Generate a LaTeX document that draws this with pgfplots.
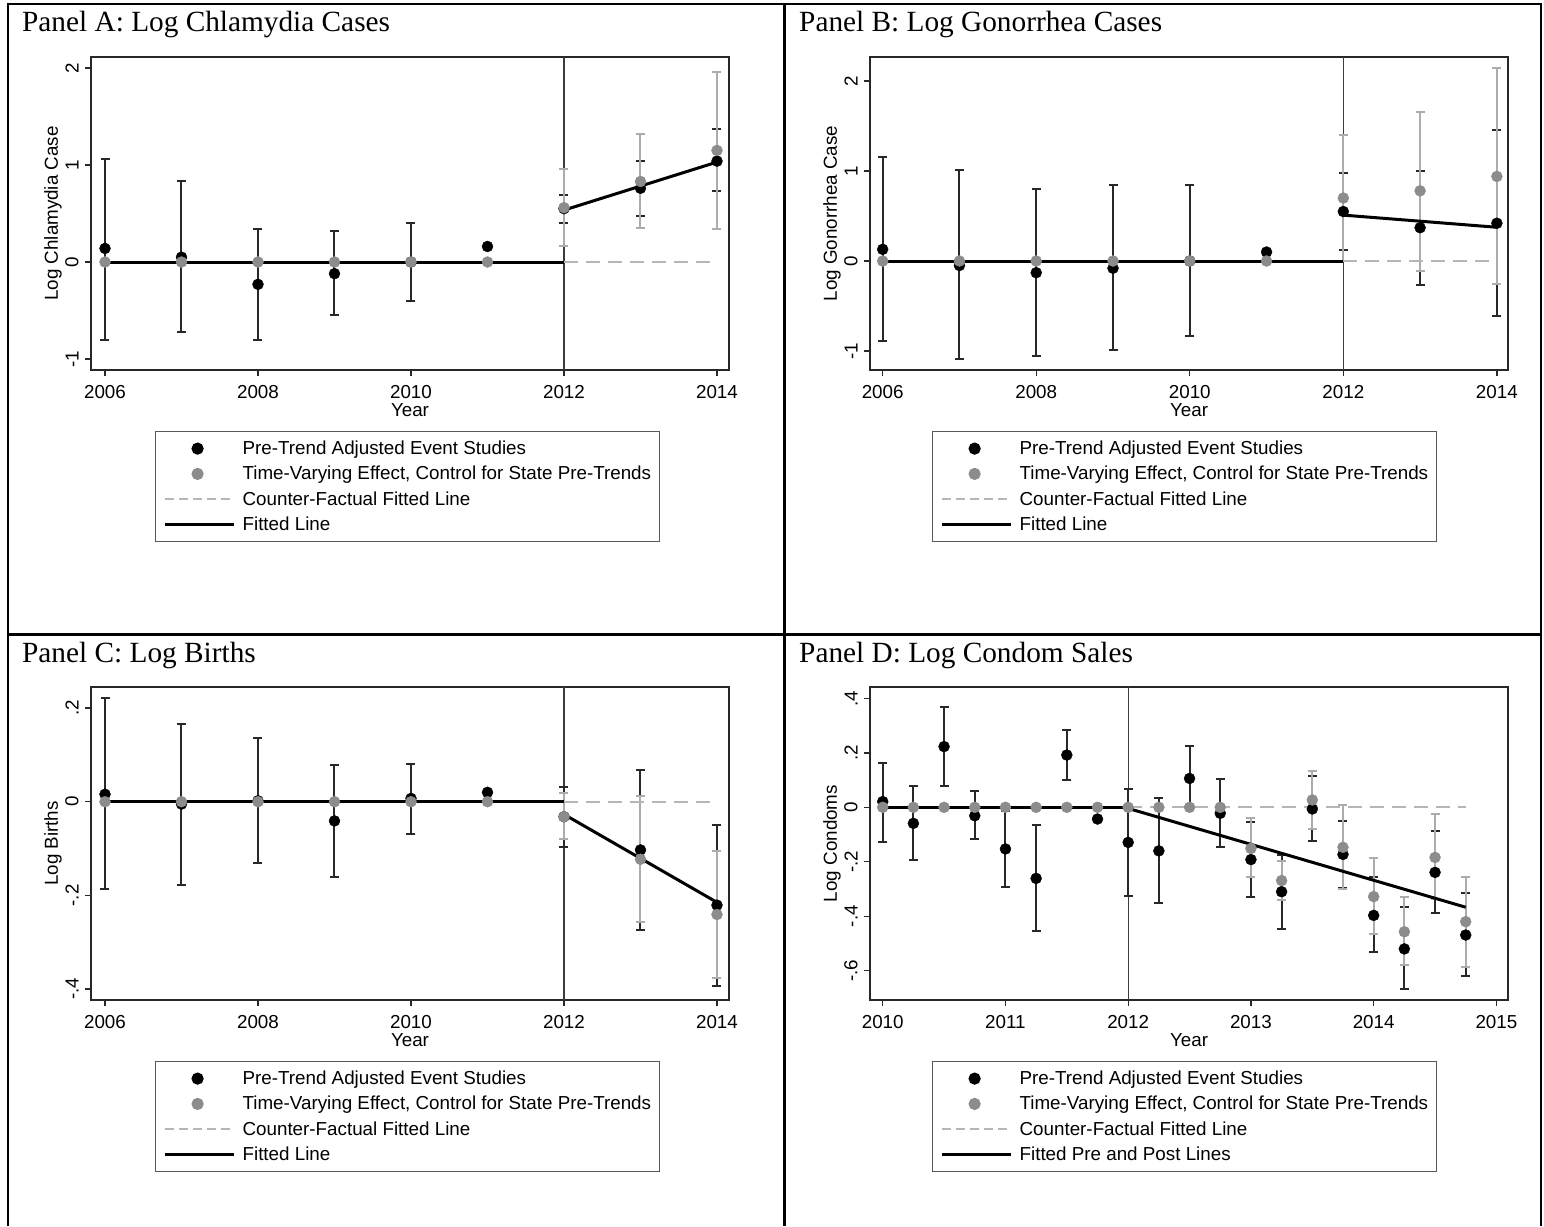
\documentclass[border=0pt]{standalone}
\usepackage{fontspec}
\setmainfont{Liberation Serif}
\setsansfont{Liberation Sans}
\usepackage{pgfplots}
\pgfplotsset{compat=1.18}

\definecolor{ptgray}{RGB}{140,140,140}
\definecolor{cigray}{RGB}{172,172,172}
\definecolor{cidark}{RGB}{40,40,40}
\definecolor{cfgray}{RGB}{182,182,182}
\definecolor{vlinec}{RGB}{60,60,60}
\definecolor{framec}{RGB}{40,40,40}

\newcommand{\tickfont}{\fontsize{18.8}{22}\selectfont\sffamily}
\newcommand{\titlefont}{\fontsize{29.3}{32}\selectfont\rmfamily}

\pgfplotsset{
  lgline/.style={legend image code/.code={\path (0pt,0pt) -- (69pt,0pt); \draw[##1] (0pt,0pt) -- (65pt,0pt);}},
  lgmark/.style={legend image code/.code={\path (0pt,0pt) -- (69pt,0pt); \draw[##1] plot coordinates {(32.5pt,0pt)};}},
  stata/.style={
    scale only axis, width=638pt, height=313pt,
    axis line style={draw=framec, line width=1.3pt},
    tick style={draw=framec, line width=1.3pt},
    major tick length=6pt, tick align=outside,
    xtick pos=left, ytick pos=left,
    tick label style={font=\tickfont, inner sep=0pt},
    xticklabel style={anchor=north},
    yticklabel style={rotate=90, anchor=south},
    xticklabel shift=9.5pt, yticklabel shift=6.2pt,
    every axis x label/.style={at={(axis description cs:0.5,-0.1278)}, anchor=center, font=\tickfont},
    every axis y label/.style={at={(axis description cs:-0.0596,0.5)}, rotate=90, anchor=center, font=\tickfont},
    xlabel={Year},
    legend cell align=left,
    legend style={
      at={(0.1003,-0.1949)}, anchor=north west,
      draw=black!65, line width=1.2pt, fill=white,
      font=\tickfont,
      inner xsep=8pt, inner ysep=8pt,
      row sep=7.3pt, column sep=7pt,
      nodes={inner sep=0pt, text height=15pt, text depth=3pt},
      cells={anchor=west},
    },
  },
  cidk/.style={draw=none, mark=none, forget plot,
    error bars/.cd, y dir=both, y explicit,
    error bar style={line width=2pt, draw=cidark},
    error mark options={rotate=90, draw=cidark, line width=2pt, mark size=4.5pt}},
  cigr/.style={draw=none, mark=none, forget plot,
    error bars/.cd, y dir=both, y explicit,
    error bar style={line width=2pt, draw=cigray},
    error mark options={rotate=90, draw=cigray, line width=2pt, mark size=4.5pt}},
  blkpts/.style={only marks, mark=*, mark size=5.5pt, forget plot, mark options={draw=black, fill=black}},
  grypts/.style={only marks, mark=*, mark size=5.5pt, forget plot, mark options={draw=ptgray, fill=ptgray}},
  fitline/.style={black, line width=3pt, forget plot},
  cfline/.style={cfgray, line width=2pt, dash pattern=on 14pt off 8pt, forget plot},
  vl/.style={vlinec, line width=1.3pt, forget plot},
}

\newcommand{\legendset}[1]{%
  \addlegendimage{lgmark, mark=*, mark size=5.5pt, draw=none, mark options={draw=black, fill=black}}
  \addlegendentry{Pre-Trend Adjusted Event Studies}
  \addlegendimage{lgmark, mark=*, mark size=5.5pt, draw=none, mark options={draw=ptgray, fill=ptgray}}
  \addlegendentry{Time-Varying Effect, Control for State Pre-Trends}
  \addlegendimage{lgline, cfgray, line width=2pt, dash pattern=on 9pt off 5pt}
  \addlegendentry{Counter-Factual Fitted Line}
  \addlegendimage{lgline, black, line width=3pt}
  \addlegendentry{#1}
}

\begin{document}
\begin{tikzpicture}
\useasboundingbox (0pt,0pt) rectangle (1544pt,-1226pt);

% frame grid
\draw[line width=2.6pt] (8pt,-1226pt) -- (8pt,-4pt) -- (1541pt,-4pt) -- (1541pt,-1226pt);
\draw[line width=2.6pt] (784.5pt,-4pt) -- (784.5pt,-1226pt);
\draw[line width=2.6pt] (8pt,-634.5pt) -- (1541pt,-634.5pt);

\node[anchor=base west, font=\titlefont, inner sep=0pt] at (22pt,-31pt) {Panel A: Log Chlamydia Cases};
\node[anchor=base west, font=\titlefont, inner sep=0pt] at (799pt,-31pt) {Panel B: Log Gonorrhea Cases};
\node[anchor=base west, font=\titlefont, inner sep=0pt] at (22pt,-662pt) {Panel C: Log Births};
\node[anchor=base west, font=\titlefont, inner sep=0pt] at (799pt,-662pt) {Panel D: Log Condom Sales};

% ---------------- Panel A
\begin{axis}[stata, at={(91pt,-370pt)}, anchor=south west,
  xmin=2005.817, xmax=2014.157, ymin=-1.113, ymax=2.113,
  xtick={2006,2008,2010,2012,2014}, xticklabels={2006,2008,2010,2012,2014},
  ytick={-1,0,1,2}, yticklabels={-1,0,1,2},
  ylabel={Log Chlamydia Case}]
\legendset{Fitted Line}
\addplot[vl] coordinates {(2012,-1.113) (2012,2.113)};
\addplot[cidk] table[x=x, y=hi, y error plus expr=0, y error minus expr=\thisrow{hi}-\thisrow{lo}] {
x lo hi
2006 -0.80 1.06
2007 -0.72 0.83
2008 -0.80 0.34
2009 -0.55 0.32
2010 -0.40 0.40
2012 0.40 0.69
2013 0.47 1.04
2014 0.73 1.37
};
\addplot[cigr] table[x=x, y=hi, y error plus expr=0, y error minus expr=\thisrow{hi}-\thisrow{lo}] {
x lo hi
2012 0.16 0.96
2013 0.35 1.32
2014 0.34 1.96
};
\addplot[cfline] coordinates {(2012,0) (2014,0)};
\addplot[fitline] coordinates {(2006,0) (2012,0)};
\addplot[fitline] coordinates {(2012,0.535) (2014,1.03)};
\addplot[blkpts] coordinates {(2006,0.14) (2007,0.05) (2008,-0.23) (2009,-0.12) (2010,0.0) (2011,0.16) (2012,0.55) (2013,0.76) (2014,1.04)};
\addplot[grypts] coordinates {(2006,0) (2007,0) (2008,0) (2009,0) (2010,0) (2011,0) (2012,0.56) (2013,0.83) (2014,1.15)};
\end{axis}

% ---------------- Panel B
\begin{axis}[stata, at={(870pt,-370pt)}, anchor=south west,
  xmin=2005.835, xmax=2014.145, ymin=-1.211, ymax=2.267,
  xtick={2006,2008,2010,2012,2014}, xticklabels={2006,2008,2010,2012,2014},
  ytick={-1,0,1,2}, yticklabels={-1,0,1,2},
  ylabel={Log Gonorrhea Case},
  legend style={at={(0.0972,-0.1949)}}]
\legendset{Fitted Line}
\addplot[vl] coordinates {(2012,-1.211) (2012,2.267)};
\addplot[cidk] table[x=x, y=hi, y error plus expr=0, y error minus expr=\thisrow{hi}-\thisrow{lo}] {
x lo hi
2006 -0.89 1.16
2007 -1.09 1.01
2008 -1.06 0.80
2009 -0.99 0.84
2010 -0.83 0.85
2012 0.12 0.98
2013 -0.27 1.00
2014 -0.61 1.46
};
\addplot[cigr] table[x=x, y=hi, y error plus expr=0, y error minus expr=\thisrow{hi}-\thisrow{lo}] {
x lo hi
2012 0.00 1.40
2013 -0.11 1.66
2014 -0.26 2.14
};
\addplot[cfline] coordinates {(2012,0) (2014,0)};
\addplot[fitline] coordinates {(2006,0) (2012,0)};
\addplot[fitline] coordinates {(2012,0.51) (2014,0.375)};
\addplot[blkpts] coordinates {(2006,0.13) (2007,-0.05) (2008,-0.13) (2009,-0.08) (2010,0.0) (2011,0.10) (2012,0.55) (2013,0.37) (2014,0.42)};
\addplot[grypts] coordinates {(2006,0) (2007,0) (2008,0) (2009,0) (2010,0) (2011,0) (2012,0.70) (2013,0.78) (2014,0.94)};
\end{axis}

% ---------------- Panel C
\begin{axis}[stata, at={(91pt,-1000pt)}, anchor=south west,
  xmin=2005.817, xmax=2014.157, ymin=-0.4237, ymax=0.2451,
  xtick={2006,2008,2010,2012,2014}, xticklabels={2006,2008,2010,2012,2014},
  ytick={-0.4,-0.2,0,0.2}, yticklabels={-.4,-.2,0,.2},
  ylabel={Log Births}]
\legendset{Fitted Line}
\addplot[vl] coordinates {(2012,-0.4237) (2012,0.2451)};
\addplot[cidk] table[x=x, y=hi, y error plus expr=0, y error minus expr=\thisrow{hi}-\thisrow{lo}] {
x lo hi
2006 -0.186 0.221
2007 -0.178 0.167
2008 -0.132 0.137
2009 -0.160 0.078
2010 -0.068 0.081
2012 -0.096 0.032
2013 -0.274 0.068
2014 -0.393 -0.050
};
\addplot[cigr] table[x=x, y=hi, y error plus expr=0, y error minus expr=\thisrow{hi}-\thisrow{lo}] {
x lo hi
2012 -0.080 0.019
2013 -0.256 0.013
2014 -0.376 -0.105
};
\addplot[cfline] coordinates {(2012,0) (2014,0)};
\addplot[fitline] coordinates {(2006,0) (2012,0)};
\addplot[fitline] coordinates {(2012,-0.027) (2014,-0.215)};
\addplot[blkpts] coordinates {(2006,0.016) (2007,-0.005) (2008,0.002) (2009,-0.041) (2010,0.007) (2011,0.020) (2012,-0.032) (2013,-0.103) (2014,-0.221)};
\addplot[grypts] coordinates {(2006,0) (2007,0) (2008,0) (2009,0) (2010,0) (2011,0) (2012,-0.032) (2013,-0.123) (2014,-0.241)};
\end{axis}

% ---------------- Panel D
\begin{axis}[stata, at={(870pt,-1000pt)}, anchor=south west,
  xmin=2009.8965, xmax=2015.0945, ymin=-0.7077, ymax=0.4418,
  xtick={2010,2011,2012,2013,2014,2015}, xticklabels={2010,2011,2012,2013,2014,2015},
  ytick={-0.6,-0.4,-0.2,0,0.2,0.4}, yticklabels={-.6,-.4,-.2,0,.2,.4},
  ylabel={Log Condoms},
  legend style={at={(0.0972,-0.1949)}}]
\legendset{Fitted Pre and Post Lines}
\addplot[vl] coordinates {(2012,-0.7077) (2012,0.4418)};
\addplot[cidk] table[x=x, y=hi, y error plus expr=0, y error minus expr=\thisrow{hi}-\thisrow{lo}] {
x lo hi
2010.00 -0.126 0.162
2010.25 -0.193 0.080
2010.50 0.080 0.370
2010.75 -0.116 0.059
2011.00 -0.291 -0.015
2011.25 -0.454 -0.065
2011.50 0.100 0.285
2012.00 -0.324 0.068
2012.25 -0.353 0.034
2012.50 -0.007 0.225
2012.75 -0.146 0.104
2013.00 -0.330 -0.053
2013.25 -0.446 -0.175
2013.50 -0.124 0.115
2013.75 -0.295 -0.050
2014.00 -0.530 -0.257
2014.25 -0.668 -0.365
2014.50 -0.387 -0.087
2014.75 -0.619 -0.315
};
\addplot[cigr] table[x=x, y=hi, y error plus expr=0, y error minus expr=\thisrow{hi}-\thisrow{lo}] {
x lo hi
2013.00 -0.255 -0.038
2013.25 -0.340 -0.196
2013.50 -0.080 0.133
2013.75 -0.301 0.009
2014.00 -0.465 -0.187
2014.25 -0.579 -0.330
2014.50 -0.338 -0.023
2014.75 -0.585 -0.255
};
\addplot[cfline] coordinates {(2012,0) (2014.75,0)};
\addplot[fitline] coordinates {(2010,0) (2012,0)};
\addplot[fitline] coordinates {(2012,-0.004) (2014.75,-0.367)};
\addplot[blkpts] coordinates {(2010.00,0.021) (2010.25,-0.059) (2010.50,0.223) (2010.75,-0.031) (2011.00,-0.153) (2011.25,-0.261) (2011.50,0.192) (2011.75,-0.043) (2012.00,-0.129) (2012.25,-0.160) (2012.50,0.106) (2012.75,-0.022) (2013.00,-0.192) (2013.25,-0.310) (2013.50,-0.006) (2013.75,-0.173) (2014.00,-0.397) (2014.25,-0.520) (2014.50,-0.239) (2014.75,-0.469)};
\addplot[grypts] coordinates {(2010.00,0) (2010.25,0) (2010.50,0) (2010.75,0) (2011.00,0) (2011.25,0) (2011.50,0) (2011.75,0) (2012.00,0) (2012.25,0) (2012.50,0) (2012.75,0) (2013.00,-0.151) (2013.25,-0.269) (2013.50,0.027) (2013.75,-0.147) (2014.00,-0.328) (2014.25,-0.457) (2014.50,-0.184) (2014.75,-0.420)};
\end{axis}
\end{tikzpicture}
\end{document}
